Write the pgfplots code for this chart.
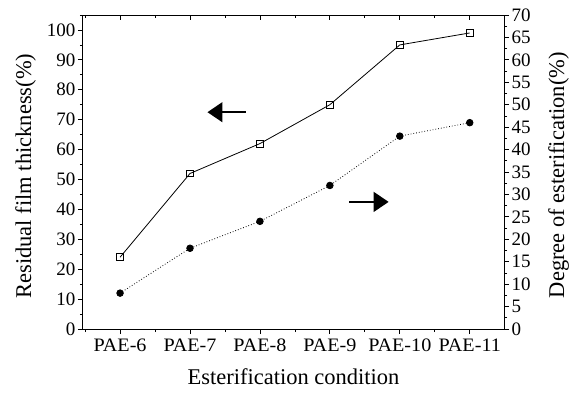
\documentclass[border=0pt]{standalone}
\usepackage{pgfplots}
\pgfplotsset{compat=1.18}
\usepackage{fontspec}
\setmainfont{Liberation Serif}
\newfontfamily\wideserif[FakeStretch=1.06]{Liberation Serif}
\usetikzlibrary{arrows.meta}
\pgfplotstableread{
x thick ester
0 24 8
1 52 18
2 62 24
3 75 32
4 95 43
5 99 46
}\data
\begin{document}
\begin{tikzpicture}
\pgfplotsset{every axis/.append style={
  scale only axis, width=421pt, height=314pt,
  xmin=-0.53, xmax=5.49,
  axis line style={line width=1pt},
  tick style={line width=0.8pt, black},
  major tick length=5pt, minor tick length=3pt,
  /pgf/number format/assume math mode=true,
  tick label style={font=\fontsize{19}{21}\selectfont},
  label style={font=\fontsize{22.5}{25}\selectfont},
}}
\begin{axis}[name=main,
  ymin=0, ymax=105,
  axis y line*=left, axis x line*=bottom,
  tick align=outside,
  xtick={0,...,5}, minor xtick={-0.5,0.5,1.5,2.5,3.5,4.5,5.5},
  xticklabels={PAE-6\hspace{18pt},PAE-7,PAE-8,PAE-9,PAE-10,PAE-11},
  ytick={0,10,...,100}, minor ytick={5,15,...,105},
  xlabel={Esterification condition},
  ylabel={Residual film thickness(\%)},
  xlabel style={at={(axis description cs:0.5,0)}, anchor=north, inner sep=0pt, yshift=-39pt},
  ylabel style={at={(axis description cs:0,0.487)}, anchor=south, inner sep=0pt, yshift=47pt},
  xticklabel style={yshift=-1pt, font=\wideserif\fontsize{19}{21}\selectfont},
  yticklabel style={xshift=1pt},
  clip=false,
]
\addplot[black, line width=0.8pt, mark=square, mark size=3.4pt, mark options={solid, fill=white, line width=0.8pt}] table[x=x,y=thick]{\data};
\draw[line width=1.4pt, -{Triangle[length=15pt,width=20pt]}] (axis cs:1.8,72.5) -- (axis cs:1.25,72.5);
\draw[line width=1.4pt, -{Triangle[length=15pt,width=20pt]}] (axis cs:3.28,42.5) -- (axis cs:3.84,42.5);
\end{axis}
\begin{axis}[
  ymin=0, ymax=70,
  axis y line*=right, axis x line*=top,
  tick align=outside,
  xtick=\empty,
  ytick={0,5,...,70}, minor ytick={2.5,7.5,...,67.5},
  ylabel={Degree of esterification(\%)},
  yticklabel style={xshift=-1pt},
  ylabel style={at={(axis description cs:1,0.49)}, anchor=north, inner sep=0pt, yshift=-44pt},
]
\addplot[black, line width=0.8pt, dotted, mark=*, mark size=3.3pt, mark options={solid, fill=black}] table[x=x,y=ester]{\data};
\end{axis}
\begin{axis}[
  ymin=0, ymax=70,
  axis y line=none, axis x line*=top,
  tick align=inside,
  xtick={0,...,5}, minor xtick={-0.5,0.5,1.5,2.5,3.5,4.5},
  xticklabels={},
]
\end{axis}
\pgfresetboundingbox
\path (main.south west) ++(-83pt,-63pt) rectangle ++(579pt,392pt);
\end{tikzpicture}
\end{document}
